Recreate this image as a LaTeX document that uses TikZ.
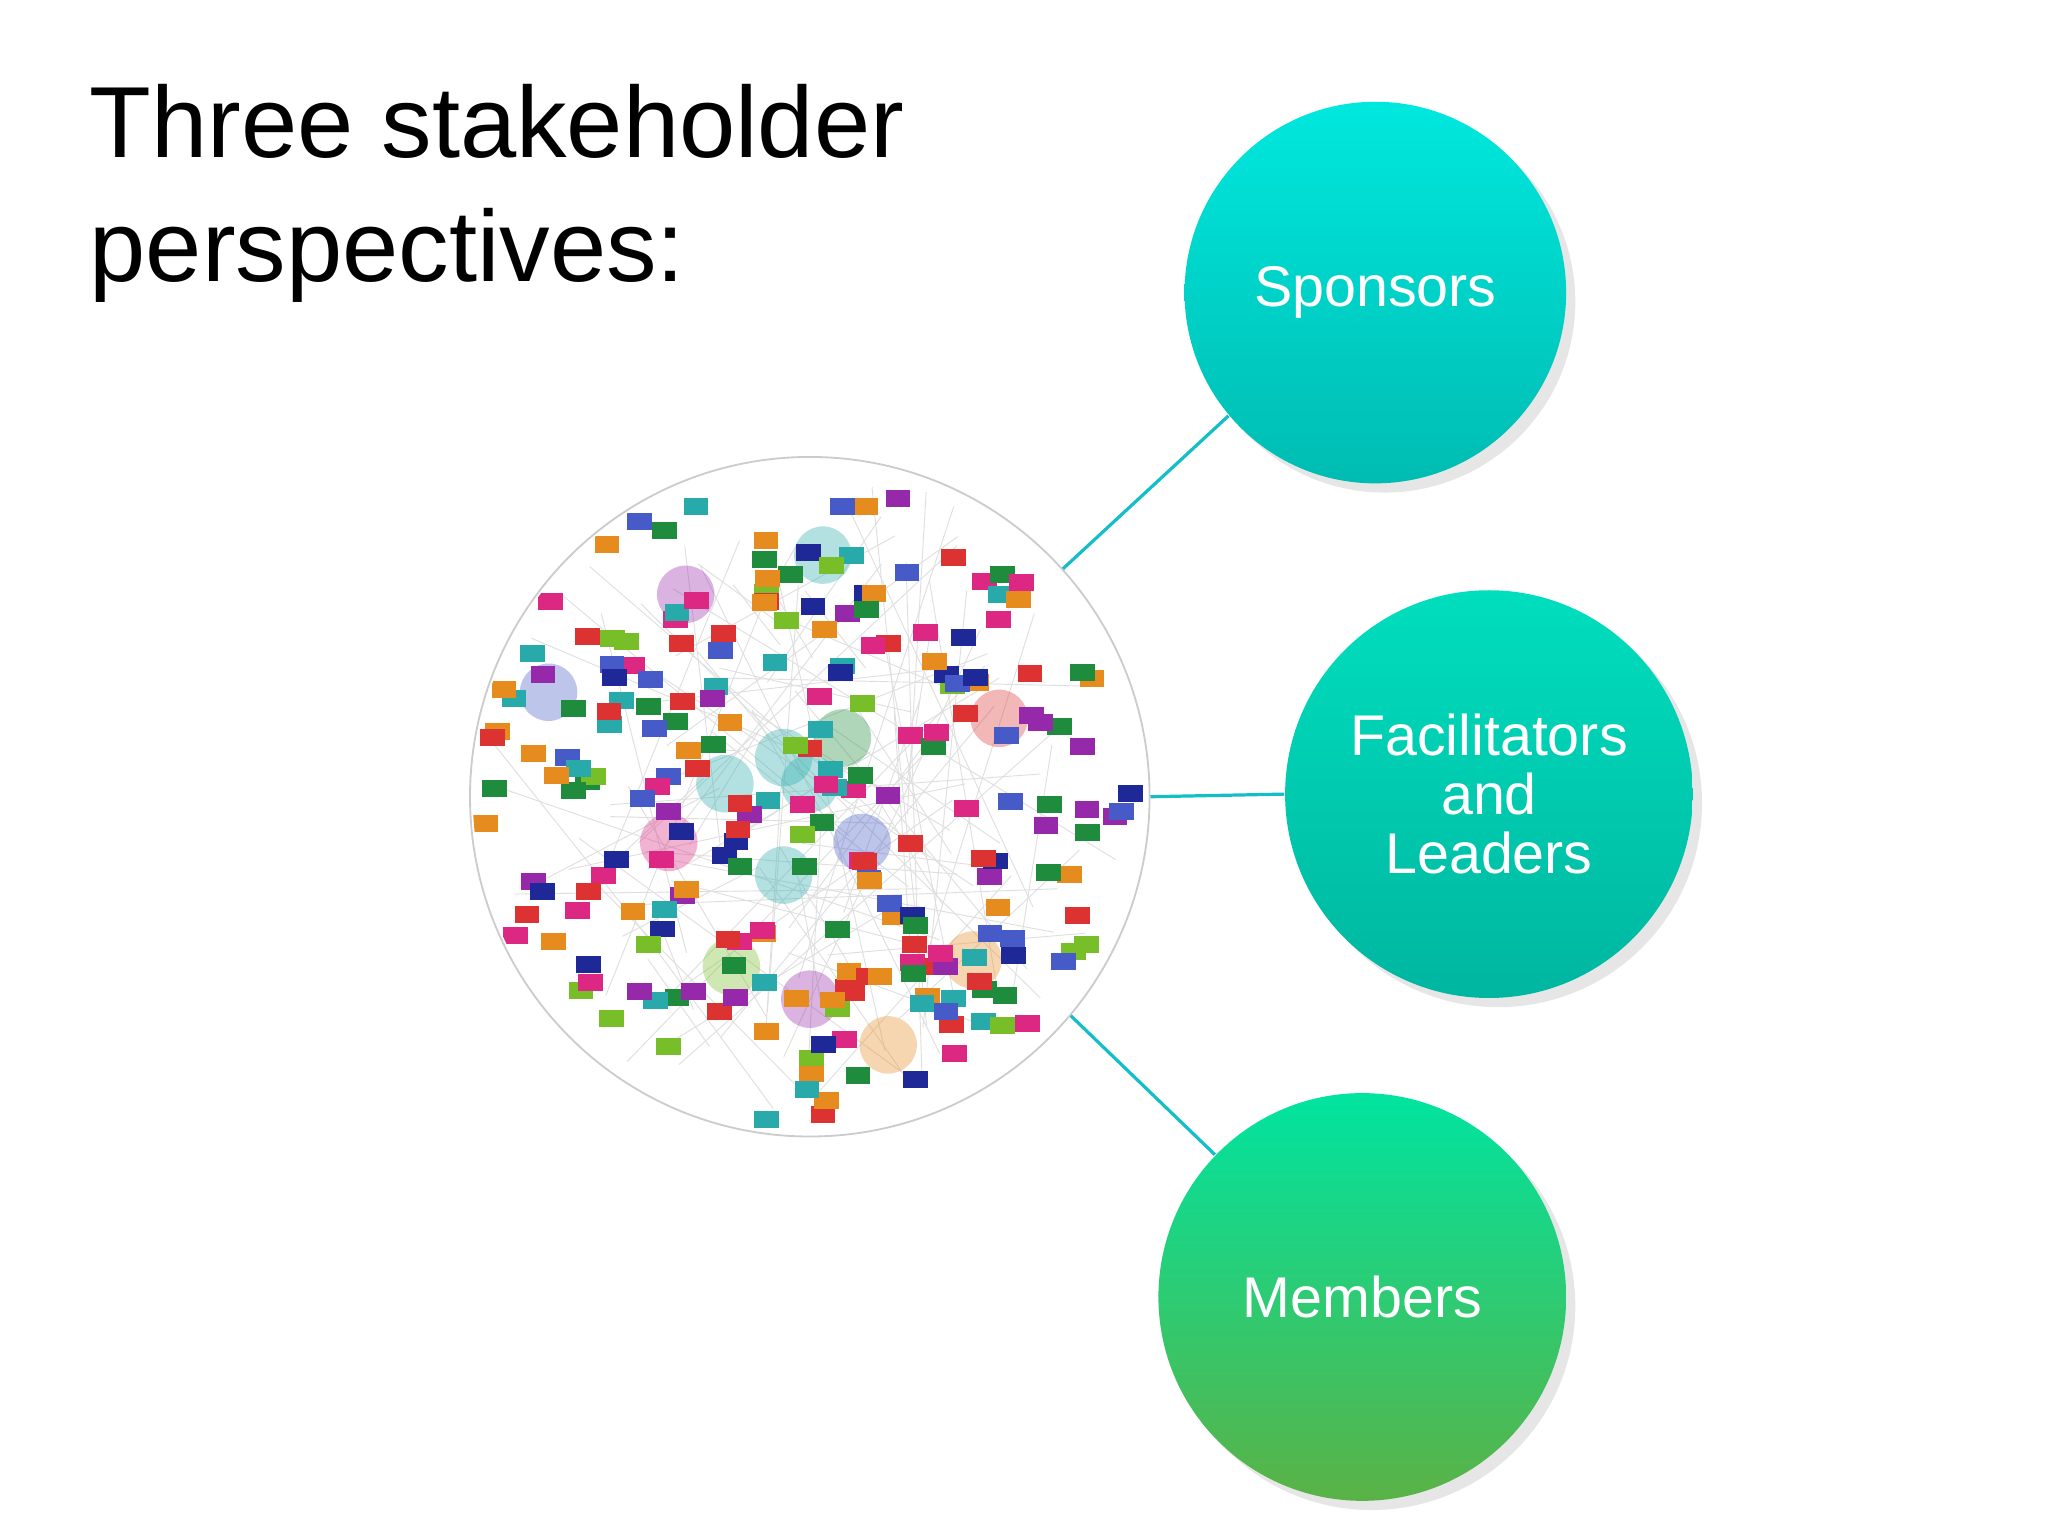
\documentclass[tikz,border=0pt]{standalone}
\usepackage{fontspec}
\setmainfont{Liberation Sans}
\usetikzlibrary{shadows,calc}
\definecolor{lnk}{RGB}{20,190,200}
\definecolor{c1}{RGB}{150,40,170}\definecolor{c2}{RGB}{40,170,170}\definecolor{c3}{RGB}{30,40,150}
\definecolor{c4}{RGB}{220,50,50}\definecolor{c5}{RGB}{30,140,60}\definecolor{c6}{RGB}{230,140,30}
\definecolor{c7}{RGB}{70,90,200}\definecolor{c8}{RGB}{220,40,130}\definecolor{c9}{RGB}{120,190,40}
\begin{document}
\begin{tikzpicture}[x=0.01cm,y=-0.01cm,
  stake/.style={circle,minimum size=#1,text=white,font=\fontsize{12.5}{12.8}\selectfont,align=center,inner sep=0pt,
    drop shadow={shadow xshift=2pt,shadow yshift=-2pt,opacity=0.2}},
  conn/.style={lnk,line width=0.7pt}]
\useasboundingbox (0,0) rectangle (1568,1176);
\node[anchor=north west,align=left,font=\fontsize{22}{27}\selectfont,inner sep=0pt] (title) at (68,64) {Three stakeholder\\perspectives:};
% network picture
\node[circle,minimum size=5.2cm,draw=gray!40,fill=white,inner sep=0pt] (net) at (620,610) {};
\pgfmathsetseed{7}
\begin{scope}
\clip (620,610) circle (258);
\foreach \i in {1,...,90}{
  \pgfmathsetmacro{\a}{360*rnd}\pgfmathsetmacro{\r}{250*sqrt(rnd)}
  \pgfmathsetmacro{\b}{360*rnd}\pgfmathsetmacro{\s}{200*sqrt(rnd)}
  \draw[gray!25,line width=0.2pt] ($(620,610)+(\a:\r)$) -- ($(620,610)+(\b:\s)$);
}
\foreach \p/\c in {{525,455}/c1,{555,600}/c2,{600,580}/c2,{645,565}/c5,{660,645}/c7,{600,670}/c2,{765,550}/c4,{620,765}/c1,{560,740}/c9,{745,735}/c6,{680,800}/c6,{420,530}/c7,{630,425}/c2,{620,600}/c2,{512,645}/c8}
  \fill[\c,opacity=0.35] (\p) circle (22);
\foreach \i in {1,...,230}{
  \pgfmathsetmacro{\a}{360*rnd}\pgfmathsetmacro{\r}{250*sqrt(rnd)}
  \pgfmathtruncatemacro{\c}{1+int(9*rnd)}
  \ifnum\c>9 \def\c{9}\fi
  \fill[c\c] ($(620,610)+(\a:\r)+(-9,-6)$) rectangle ++(19,13);
}
\end{scope}
\node[stake=2.92cm,top color={rgb,255:red,0;green,232;blue,222},bottom color={rgb,255:red,0;green,188;blue,178}] (sp) at (1053,224) {Sponsors};
\node[stake=3.12cm,top color={rgb,255:red,0;green,222;blue,190},bottom color={rgb,255:red,0;green,182;blue,160}] (fa) at (1140,608) {Facilitators\\and\\Leaders};
\node[stake=3.12cm,top color={rgb,255:red,0;green,228;blue,160},bottom color={rgb,255:red,90;green,178;blue,70}] (me) at (1043,993) {Members};
\draw[conn] (net.42) -- (sp.220);
\draw[conn] (net.east) -- (fa.west);
\draw[conn] (net.-40) -- (me.136);
\end{tikzpicture}
\end{document}
